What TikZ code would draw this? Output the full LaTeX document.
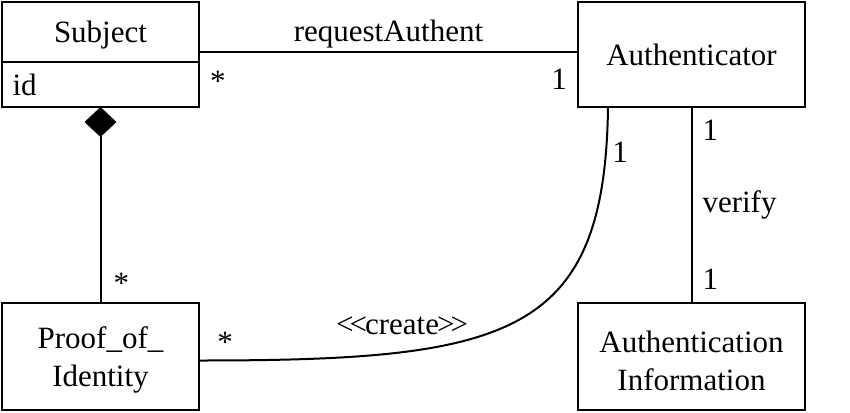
\documentclass[tikz,border=0pt]{standalone}
\usepackage{fontspec}
\setmainfont{Liberation Serif}
\usetikzlibrary{arrows.meta,positioning,calc}

\begin{document}
\begin{tikzpicture}[
    x=0.5pt, y=-0.5pt,
    box/.style={rectangle, draw, line width=1.2pt, outer sep=0pt, minimum width=98.5pt, minimum height=53.5pt, align=center, inner sep=0pt, font=\fontsize{15.5}{19}\selectfont},
    bigbox/.style={box, minimum width=113.5pt},
    assoc/.style={line width=1pt},
    mult/.style={font=\fontsize{15.5}{19}\selectfont, inner sep=1pt}
]
    \useasboundingbox (0,0) rectangle (850,412);

    % Left: Subject class with its attribute
    \node[box, minimum height=30pt, text depth=0pt] (subject) at (100.5,32) {Subject};
    \node[box, minimum height=22.5pt, below=0pt of subject, text width=88pt, align=left] (subjectid) {id};

    % Right: Authenticator
    \node[bigbox, minimum height=52.5pt] (auth) at (691.5,54.5) {Authenticator};

    % Bottom row
    \node[box, text height=33.7pt, text depth=3.4pt] (proof) at (100.5,356.5) {Proof\_of\_\\Identity};
    \node[bigbox, text height=33.7pt, text depth=0pt] (authinfo) at (691.5,356.5) {Authentication\\Information};

    % Associations
    \draw[assoc] ([yshift=-25pt]subject.north east) -- node[above=0.5pt, mult] {requestAuthent}
        node[pos=0.05, below=8pt, mult] {*} node[pos=0.95, below=7pt, mult] {1}
        ([yshift=-25pt]auth.north west);
    \draw[assoc, {Diamond[length=15pt, width=16pt]}-] (subjectid.south) -- node[pos=0.9, right=5pt, mult] {*} (proof.north);
    \draw[assoc] (auth.south) -- node[pos=0.12, right=4pt, mult] {1}
        node[pos=0.5, right=4pt, mult] {verify} node[pos=0.88, right=4pt, mult] {1} (authinfo.north);
    \draw[assoc] ([xshift=15pt]auth.south west) coordinate (cstart)
        .. controls +(-1.5pt,-115pt) and +(155pt,0pt) .. ([yshift=-2pt]proof.east) coordinate (cend);
    \node[mult] (cone) at (620,152) {1};
    \node[mult] (clabel) at (402,326) {<\kern-2pt<\kern-1pt create\kern-1pt>\kern-2pt>};
    \node[mult] (cstar) at (225,342) {*};
\end{tikzpicture}
\end{document}
